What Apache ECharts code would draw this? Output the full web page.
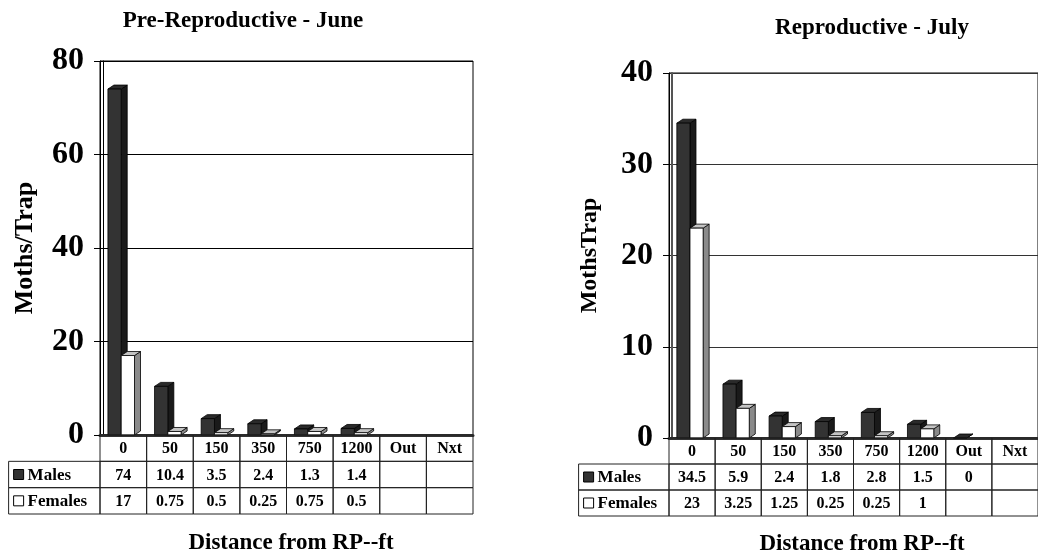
<!DOCTYPE html>
<html>
<head>
<meta charset="utf-8">
<title>Moths per trap</title>
<script src="https://cdn.jsdelivr.net/npm/echarts@6.0.0/dist/echarts.min.js"></script>
<style>
  html, body { margin: 0; padding: 0; background: #fff; }
  #main { width: 1038px; height: 554px; }
</style>
</head>
<body>
<div id="main"></div>
<script>
// data
const categories = ['0', '50', '150', '350', '750', '1200', 'Out', 'Nxt'];
const juneMales = [74, 10.4, 3.5, 2.4, 1.3, 1.4, null, null];
const juneFemales = [17, 0.75, 0.5, 0.25, 0.75, 0.5, null, null];
const julyMales = [34.5, 5.9, 2.4, 1.8, 2.8, 1.5, 0, null];
const julyFemales = [23, 3.25, 1.25, 0.25, 0.25, 1, null, null];
const juneTicks = [0, 20, 40, 60, 80];
const julyTicks = [0, 10, 20, 30, 40];
const seriesNames = ['Males', 'Females'];

const FONT = '"Liberation Serif", "Times New Roman", serif';
const maleColors = { front: '#333333', side: '#1a1a1a', top: '#2a2a2a' };
const femaleColors = { front: '#ffffff', side: '#8a8a8a', top: '#c4c4c4' };

const chart = echarts.init(document.getElementById('main'));

// 3D-looking column, like the old Excel charts
const barRender = (colors, slot) => (params, api) => {
  const v = api.value(1);
  if (v == null || isNaN(v)) return;
  const base = api.coord([api.value(0), 0]);
  const top = api.coord([api.value(0), v]);
  const band = api.size([1, 0])[0];
  const w = band * 0.285;
  const dx = 6, dy = 4;
  const x0 = base[0] - band / 2 + band * 0.17 + slot * w;
  const y0 = top[1], y1 = base[1];
  const stroke = { stroke: '#000', lineWidth: 0.8 };
  return {
    type: 'group',
    children: [
      { type: 'polygon', shape: { points: [[x0 + w, y0], [x0 + w + dx, y0 - dy], [x0 + w + dx, y1 - dy], [x0 + w, y1]] },
        style: Object.assign({ fill: colors.side }, stroke) },
      { type: 'polygon', shape: { points: [[x0, y0], [x0 + dx, y0 - dy], [x0 + w + dx, y0 - dy], [x0 + w, y0]] },
        style: Object.assign({ fill: colors.top }, stroke) },
      { type: 'rect', shape: { x: x0, y: y0, width: w, height: y1 - y0 },
        style: Object.assign({ fill: colors.front }, stroke) }
    ]
  };
};

const fmt = (v) => (v == null ? '' : String(v));

const buildCells = (males, females) => {
  let cells = [];
  categories.forEach((c, i) => {
    cells.push({ col: i, row: 0, text: c, kind: 'cell' });
    cells.push({ col: i, row: 1, text: fmt(males[i]), kind: 'cell' });
    cells.push({ col: i, row: 2, text: fmt(females[i]), kind: 'cell' });
  });
  cells.push({ col: 0, row: 1, text: seriesNames[0], kind: 'legend', colors: maleColors });
  cells.push({ col: 0, row: 2, text: seriesNames[1], kind: 'legend', colors: femaleColors });
  return cells;
};

const tableRender = (cells) => (params, api) => {
  const c = cells[params.dataIndex];
  const p = api.coord([api.value(0), api.value(1)]);
  const s = api.size([1, 1]);
  const bw = s[0], rh = s[1];
  let x = p[0] - bw / 2, w = bw;
  if (c.kind === 'legend') {
    w = bw * 1.96;
    x = p[0] - bw / 2 - w;
  }
  const y = p[1] - rh / 2;
  const children = [{
    type: 'rect', shape: { x: x, y: y, width: w, height: rh },
    style: { fill: 'none', stroke: '#222', lineWidth: 1 }
  }];
  if (c.kind === 'legend') {
    children.push({
      type: 'rect', shape: { x: x + 5, y: p[1] - 5, width: 10, height: 10 },
      style: { fill: c.colors.front, stroke: '#000', lineWidth: 1 }
    });
    children.push({
      type: 'text',
      style: { text: c.text, x: x + 19, y: p[1] + 1, align: 'left', verticalAlign: 'middle',
        font: 'bold 17px ' + FONT, fill: '#000' }
    });
  } else if (c.text !== '') {
    children.push({
      type: 'text',
      style: { text: c.text, x: p[0], y: p[1] + 1, align: 'center', verticalAlign: 'middle',
        font: 'bold 16px ' + FONT, fill: '#000' }
    });
  }
  return { type: 'group', children: children };
};

const juneCells = buildCells(juneMales, juneFemales);
const julyCells = buildCells(julyMales, julyFemales);

const plotY = (idx, ticks, name, gap, nameSize, gridColor) => ({
  gridIndex: idx,
  type: 'value',
  min: ticks[0],
  max: ticks[ticks.length - 1],
  interval: ticks[1] - ticks[0],
  name: name,
  nameLocation: 'middle',
  nameGap: gap,
  nameRotate: 90,
  nameTextStyle: { fontFamily: FONT, fontWeight: 'bold', fontSize: nameSize, color: '#000' },
  axisLine: { show: true, lineStyle: { color: '#000', width: 1 } },
  axisTick: { show: true, length: 6, lineStyle: { color: '#000' } },
  axisLabel: { fontFamily: FONT, fontWeight: 'bold', fontSize: 32, color: '#000', margin: 16 },
  splitLine: { show: true, lineStyle: { color: gridColor, width: 1 } }
});

const wallY = (idx, ticks, color, width) => ({
  gridIndex: idx,
  type: 'value',
  position: 'left',
  offset: -3,
  min: ticks[0],
  max: ticks[ticks.length - 1],
  axisLine: { show: true, lineStyle: { color: color, width: width } },
  axisTick: { show: false },
  axisLabel: { show: false },
  splitLine: { show: false }
});

const plotX = (idx) => ({
  gridIndex: idx,
  type: 'category',
  data: categories,
  axisLine: { show: true, lineStyle: { color: '#333', width: 3 } },
  axisTick: { show: false },
  axisLabel: { show: false }
});

const tableX = (idx) => ({ gridIndex: idx, type: 'category', data: categories, show: false });
const tableY = (idx) => ({ gridIndex: idx, type: 'category', data: ['', 'Males', 'Females'], inverse: true, show: false });

const titleStyle = { fontFamily: FONT, fontWeight: 'bold', fontSize: 23, color: '#000' };
const axisTitleStyle = { fontFamily: FONT, fontWeight: 'bold', fontSize: 23, color: '#000' };

const option = {
  backgroundColor: '#fff',
  animation: false,
  title: [
    { text: 'Pre-Reproductive - June', left: 238, top: 5, textAlign: 'center', textStyle: titleStyle },
    { text: 'Reproductive - July', left: 867, top: 12, textAlign: 'center', textStyle: titleStyle },
    { text: 'Distance from RP--ft', left: 286, top: 527, textAlign: 'center', textStyle: axisTitleStyle },
    { text: 'Distance from RP--ft', left: 857, top: 528, textAlign: 'center', textStyle: axisTitleStyle }
  ],
  grid: [
    { left: 100, top: 61, width: 373, height: 374, show: true, borderColor: '#000', borderWidth: 1 },
    { left: 100, top: 435, width: 373, height: 79 },
    { left: 669, top: 73, width: 376, height: 365, show: true, borderColor: '#000', borderWidth: 1 },
    { left: 669, top: 438, width: 376, height: 78 }
  ],
  xAxis: [plotX(0), tableX(1), plotX(2), tableX(3)],
  yAxis: [
    plotY(0, juneTicks, 'Moths/Trap', 62, 26, '#000'),
    tableY(1),
    plotY(2, julyTicks, 'MothsTrap', 67, 24, '#333'),
    tableY(3),
    wallY(0, juneTicks, '#000', 1),
    wallY(2, julyTicks, '#555', 2)
  ],
  series: [
    { name: 'June Males', type: 'custom', xAxisIndex: 0, yAxisIndex: 0,
      renderItem: barRender(maleColors, 0), data: juneMales.map((v, i) => [i, v]) },
    { name: 'June Females', type: 'custom', xAxisIndex: 0, yAxisIndex: 0,
      renderItem: barRender(femaleColors, 1), data: juneFemales.map((v, i) => [i, v]) },
    { name: 'June table', type: 'custom', xAxisIndex: 1, yAxisIndex: 1,
      renderItem: tableRender(juneCells), data: juneCells.map((c) => [c.col, c.row]) },
    { name: 'July Males', type: 'custom', xAxisIndex: 2, yAxisIndex: 2,
      renderItem: barRender(maleColors, 0), data: julyMales.map((v, i) => [i, v]) },
    { name: 'July Females', type: 'custom', xAxisIndex: 2, yAxisIndex: 2,
      renderItem: barRender(femaleColors, 1), data: julyFemales.map((v, i) => [i, v]) },
    { name: 'July table', type: 'custom', xAxisIndex: 3, yAxisIndex: 3,
      renderItem: tableRender(julyCells), data: julyCells.map((c) => [c.col, c.row]) }
  ]
};

chart.setOption(option);
</script>
</body>
</html>
